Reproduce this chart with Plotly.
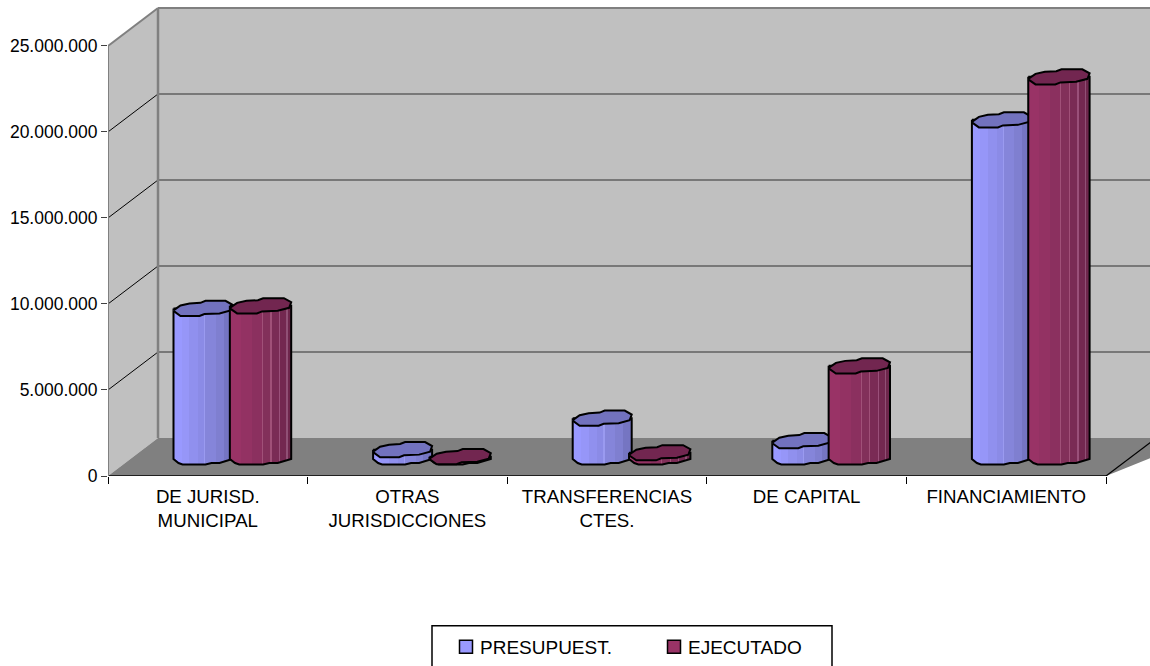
import plotly.graph_objects as go

# ---- data ----
categories = ["DE JURISD.<br>MUNICIPAL", "OTRAS<br>JURISDICCIONES", "TRANSFERENCIAS<br>CTES.", "DE CAPITAL", "FINANCIAMIENTO"]
presupuest = [8640000, 430000, 2260000, 950000, 19600000]
ejecutado = [8790000, 20000, 250000, 5300000, 22100000]
y_ticks = [0, 5000000, 10000000, 15000000, 20000000, 25000000]
series_names = ["PRESUPUEST.", "EJECUTADO"]

# ---- layout constants (pixels of the page) ----
W, H = 1150, 666
AX_L, AX_R, AX_B, AX_T25, PLOT_T = 108, 1106, 477, 46, 4
DEPTH_X, DEPTH_Y = 50, 38
PX_X = len(categories) / (AX_R - AX_L)
PX_Y = y_ticks[-1] / (AX_B - AX_T25)
X_MAX = (W - AX_L) * PX_X
Y_MAX = (AX_B - PLOT_T) * PX_Y
DX, DY = DEPTH_X * PX_X, DEPTH_Y * PX_Y

# irregular faceted ellipse of the cylinder section, offsets in pixels
section = [(-29, 2), (-22, -3), (-13, -5), (-2, -5.6), (3, -7.6), (23, -7.6), (30, -3.6),
           (28, 2), (17, 5), (2, 5.6), (-3, 7.6), (-22, 7.6), (-29, 2.5)]
lower_half = [(-29, 2), (-24, 6), (-20, 7.5), (3, 7.5), (9, 6), (17, 6), (30, 2)]
BAR_OFF = [-5.3 * PX_X, 52.2 * PX_X]   # centre of each column relative to category centre
BAR_SCALE = [1.0, 1.04]


def steps(cols, stops):
    out = []
    for i, c in enumerate(cols):
        out += [[stops[i], c], [stops[i + 1], c]]
    return out


blue_stops = [0, .14, .27, .42, .52, .54, .72, .85, 1]
blue_cols = ["#9999FF", "#9696F8", "#9090EE", "#8B8BE6", "#9A9AF0", "#8585DA", "#7F7FD0", "#7575C2"]
plum_stops = [0, .18, .36, .52, .54, .66, .68, .8, .82, .92, .94, 1]
plum_cols = ["#993366", "#933263", "#8B305F", "#A05078", "#82305A", "#A05078", "#7A2B55", "#9A507A", "#732850", "#905075", "#6E264C"]
side_scales = [steps(blue_cols, blue_stops), steps(plum_cols, plum_stops)]
top_cols = ["#7272BE", "#722650"]
legend_cols = ["#9999FF", "#993366"]

fig = go.Figure()

# ---- walls and floor ----
shapes = []


def poly(points, fill):
    path = "M " + " L ".join(f"{x},{y}" for x, y in points) + " Z"
    shapes.append(dict(type="path", path=path, xref="x", yref="y", fillcolor=fill, line=dict(width=0), layer="below"))


def seg(x0, y0, x1, y1, color, width):
    shapes.append(dict(type="line", xref="x", yref="y", x0=x0, y0=y0, x1=x1, y1=y1,
                       line=dict(color=color, width=width), layer="below"))


top = y_ticks[-1]
poly([(DX, DY), (X_MAX, DY), (X_MAX, top + DY), (DX, top + DY)], "#C0C0C0")
poly([(0, 0), (DX, DY), (DX, top + DY), (0, top)], "#C0C0C0")
poly([(0, 0), (DX, DY), (X_MAX + DX, DY), (len(categories), 0)], "#808080")
for t in y_ticks[1:-1]:
    seg(0, t, DX, t + DY, "#000000", 1)
    seg(DX, t + DY, X_MAX, t + DY, "#606060", 1.5)
seg(0, top, DX, top + DY, "#808080", 2)
seg(DX, top + DY, X_MAX, top + DY, "#808080", 2)
seg(DX, DY, DX, top + DY, "#808080", 2.5)
seg(len(categories), 0, len(categories) + DX, DY, "#000000", 1.2)
seg(0, 0, len(categories), 0, "#000000", 1.5)

# ---- y axis line, not clipped at the plot edge ----
fig.add_trace(go.Scatter(x=[0, 0], y=[0, top], mode="lines", line=dict(color="#808080", width=2),
                         cliponaxis=False, showlegend=False, hoverinfo="skip"))

# ---- cylinders ----
for s, values in enumerate([presupuest, ejecutado]):
    k = BAR_SCALE[s] * PX_X
    for c, v in enumerate(values):
        cx = c + 0.5 + BAR_OFF[s]
        base = DY / 2
        t_y = base + v
        xs = [cx + section[0][0] * k] + [cx + p[0] * k for p in lower_half] + [cx + lower_half[-1][0] * k]
        ys = [t_y] + [base - p[1] * PX_Y for p in lower_half] + [t_y]
        xs.append(xs[0])
        ys.append(ys[0])
        fig.add_trace(go.Scatter(x=xs, y=ys, mode="lines", fill="toself",
                                 fillgradient=dict(type="horizontal", colorscale=side_scales[s]),
                                 line=dict(color="#000000", width=2), showlegend=False, hoverinfo="skip"))
        fig.add_trace(go.Scatter(x=[cx + p[0] * k for p in section], y=[t_y - p[1] * PX_Y for p in section],
                                 mode="lines", fill="toself", fillcolor=top_cols[s],
                                 line=dict(color="#000000", width=2), showlegend=False, hoverinfo="skip"))

# ---- legend entries ----
for name, col in zip(series_names, legend_cols):
    fig.add_trace(go.Scatter(x=[None], y=[None], mode="markers", name=name,
                             marker=dict(symbol="square", size=13, color=col, line=dict(color="#000000", width=1.5))))

plot_w = W - AX_L
plot_h = AX_B - PLOT_T
shapes.append(dict(type="rect", xref="paper", yref="paper",
                   x0=(432 - AX_L) / plot_w, x1=(832 - AX_L) / plot_w,
                   y0=(AX_B - 690) / plot_h, y1=(AX_B - 627) / plot_h,
                   line=dict(color="#000000", width=1.5), fillcolor="#FFFFFF"))

fig.update_layout(
    width=W, height=H, margin=dict(l=AX_L, r=0, t=PLOT_T, b=H - AX_B),
    paper_bgcolor="#FFFFFF", plot_bgcolor="#FFFFFF", separators=",.",
    font=dict(family="Liberation Sans", color="#000000", size=18),
    shapes=shapes, showlegend=True,
    legend=dict(orientation="h", x=(440 - AX_L) / plot_w, xanchor="left", y=(AX_B - 629) / plot_h, yanchor="top",
                bgcolor="rgba(0,0,0,0)", borderwidth=0, font=dict(size=19),
                entrywidth=163, entrywidthmode="pixels", tracegroupgap=0),
    xaxis=dict(range=[0, X_MAX], showgrid=False, zeroline=False, showline=False,
               tickmode="array", tickvals=[i + 0.5 for i in range(len(categories))], ticktext=categories,
               ticks="", tickangle=0, tickfont=dict(size=18.7), ticklabelstandoff=7,
               minor=dict(tickmode="array", tickvals=list(range(len(categories) + 1)), ticks="outside",
                          ticklen=7, tickcolor="#000000", tickwidth=1, showgrid=False)),
    yaxis=dict(range=[0, Y_MAX], showgrid=False, zeroline=False, showline=False,
               tickmode="array", tickvals=y_ticks, tickformat=",d", ticks="outside", ticklen=6,
               tickcolor="#404040", tickwidth=1, tickfont=dict(size=17.5)),
)

fig.write_html("out.html", config={"displayModeBar": False},
               post_script="document.body.style.margin='0';"
                           "document.querySelectorAll('.legendsymbols').forEach(function(e){"
                           "e.setAttribute('transform','translate(6,0)');});")
